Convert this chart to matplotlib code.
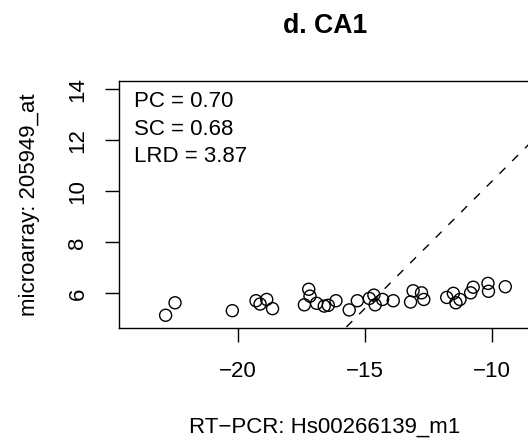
import numpy as np
import matplotlib.pyplot as plt

plt.rcParams['font.family'] = ['Liberation Sans', 'DejaVu Sans']

# RT-PCR values (x) and microarray values (y)
rtpcr = [-22.83, -22.46, -20.21, -19.28, -19.12, -18.86, -18.63, -17.21, -17.16, -17.38,
         -16.90, -16.60, -16.44, -16.14, -15.62, -15.30, -14.83, -14.65, -14.60, -14.31,
         -13.89, -13.21, -13.11, -12.78, -12.69, -11.79, -11.53, -11.43, -11.27, -10.85,
         -10.75, -10.17, -10.15, -9.49]
microarray = [5.14, 5.63, 5.32, 5.71, 5.58, 5.76, 5.40, 6.16, 5.89, 5.55,
              5.61, 5.50, 5.53, 5.71, 5.35, 5.71, 5.80, 5.93, 5.55, 5.76,
              5.71, 5.66, 6.10, 6.02, 5.76, 5.84, 6.00, 5.63, 5.76, 6.02,
              6.24, 6.39, 6.08, 6.26]
line_slope = 1.0
line_intercept = 20.41
stats = ['PC = 0.70', 'SC = 0.68', 'LRD = 3.87']
x_ticks = [-20, -15, -10]
y_ticks = [6, 8, 10, 12, 14]

fig = plt.figure(figsize=(5.28, 4.41), dpi=100)
ax = fig.add_axes([0.2254, 0.2562, 0.7803, 0.5608])

ax.scatter(rtpcr, microarray, s=75, facecolors='none', edgecolors='black', linewidths=1.0, zorder=3)

xlim = (-24.66, -8.48)
ylim = (4.64, 14.34)
xs = np.array(xlim)
ax.plot(xs, line_intercept + line_slope * xs, color='black', linewidth=1.0, dashes=(6, 7))
ax.set_xlim(xlim)
ax.set_ylim(ylim)

ax.set_xticks(x_ticks)
ax.set_xticklabels(['\u2212' + str(abs(t)) for t in x_ticks])
ax.set_yticks(y_ticks)
ax.set_yticklabels([str(t) for t in y_ticks], rotation=90, va='center')
ax.tick_params(axis='both', length=10, width=1.0, labelsize=16)
ax.tick_params(axis='x', pad=14)
ax.tick_params(axis='y', pad=12)

for s in ax.spines.values():
    s.set_linewidth(1.0)

for i, t in enumerate(stats):
    fig.text(134 / 528, 1 - (101.7 + 27.5 * i) / 441, t, fontsize=16, va='center', ha='left')

fig.text(325 / 528, 1 - 26 / 441, 'd. CA1', fontsize=19.2, fontweight='bold', ha='center', va='center')
fig.text(325 / 528, 1 - 427 / 441, 'RT\u2212PCR: Hs00266139_m1', fontsize=16, ha='center', va='center')
fig.text(30 / 528, 1 - 205 / 441, 'microarray: 205949_at', fontsize=16, ha='center', va='center', rotation=90)

fig.savefig('out.png', dpi=100)
